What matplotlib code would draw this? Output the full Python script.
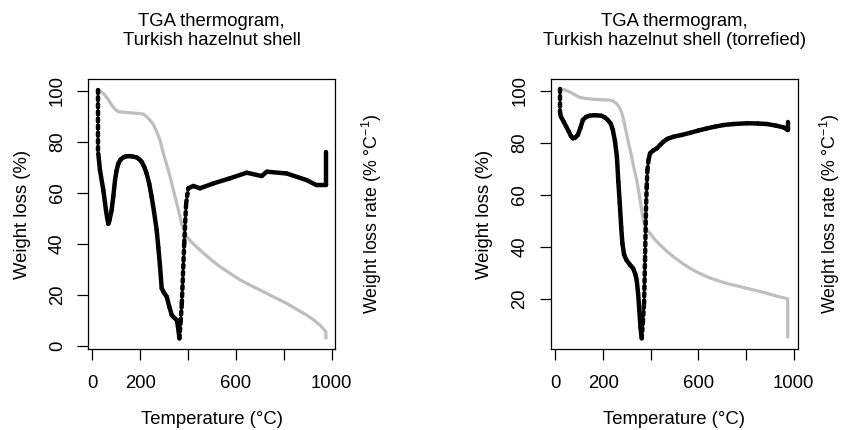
import numpy as np
import matplotlib.pyplot as plt
from matplotlib.collections import LineCollection

plt.rcParams['font.family'] = ['Liberation Sans', 'DejaVu Sans']
plt.rcParams['mathtext.fontset'] = 'custom'
plt.rcParams['mathtext.rm'] = 'Liberation Sans'
plt.rcParams['mathtext.it'] = 'Liberation Sans:italic'

# raw hazelnut shell: weight (%) and scaled weight loss rate, both vs temperature (C)
raw_temp = [25, 35, 53, 67, 81, 95, 109, 130, 158, 213, 225, 241, 255, 269, 283,
            297, 311, 325, 339, 353, 363, 373, 383, 394, 420, 450, 490, 533, 575,
            617, 665, 714, 760, 812, 850, 896, 925, 951, 976, 976]
raw_weight = [100.5, 99.8, 98.3, 96.5, 94.4, 92.8, 91.8, 91.6, 91.4, 90.9, 90.0,
              88.5, 86.8, 84, 80.5, 75.5, 71, 66.3, 61, 55.9, 52, 48, 45.5, 42.8,
              40.2, 37.6, 34.3, 31.1, 28.5, 25.9, 23.6, 21.3, 19.1, 16.7, 14.6,
              12.1, 10.2, 8.2, 5.6, 2.6]
raw_rate_temp = [25, 25, 32, 46, 57, 62, 67, 72, 81, 88, 95, 101, 109, 118, 130,
                 140, 158, 170, 185, 196, 206, 217, 227, 238, 248, 258, 269, 276,
                 283, 290, 300, 311, 322, 332, 343, 353, 358, 364, 369, 374, 384,
                 392, 401, 422, 450, 506, 575, 645, 708, 729, 812, 896, 937, 972,
                 976, 976]
raw_rate = [100.5, 75.4, 68.9, 61.1, 53.3, 50.2, 47.9, 49.3, 53.3, 58.8, 65, 68.6,
            71.6, 73.0, 73.9, 74.3, 74.4, 74.2, 73.9, 73.2, 72.2, 70.2, 67.6, 63.5,
            58.5, 52.5, 45.4, 38.5, 31.1, 22.6, 20.8, 19.3, 15.3, 12.1, 11.0, 10.2,
            7.5, 3, 9.5, 16.7, 40.2, 55.9, 61.8, 62.7, 61.8, 63.7, 65.7, 67.9,
            66.6, 68.3, 67.6, 65, 63, 63, 63, 76.1]

# torrefied hazelnut shell
torr_temp = [20, 40, 59, 80, 101, 120, 157, 228, 240, 256, 266, 277, 287, 298,
             309, 320, 330, 341, 352, 362, 369, 376, 385, 397, 415, 439, 465, 495,
             530, 565, 600, 635, 680, 719, 760, 804, 850, 888, 930, 975, 975]
torr_weight = [100.7, 100.3, 99.6, 98.5, 97.5, 97.1, 96.7, 96.4, 96.1, 95.1, 94,
               91.9, 88.5, 83.6, 79, 74.6, 70, 65.7, 60, 54.1, 50.5, 47.7, 46.3,
               45.2, 43, 40.7, 38.5, 36.2, 33.8, 31.7, 30, 28.5, 27, 25.9, 25, 24,
               23, 22.1, 21, 20, 4.8]
torr_rate_temp = [20, 20, 23, 35, 45, 55, 65, 73, 83, 94, 105, 115, 128, 143, 165,
                  192, 208, 220, 232, 241, 250, 258, 264, 270, 276, 281, 288, 298,
                  315, 326, 335, 341, 347, 352, 357, 362, 367, 372, 376, 380, 383,
                  386, 391, 397, 410, 425, 440, 453, 470, 495, 530, 565, 600, 635,
                  670, 705, 747, 804, 850, 888, 925, 958, 975, 975]
torr_rate = [100.7, 91.3, 90, 88.0, 86.2, 84.5, 82.6, 81.7, 82.0, 83, 85.8, 88.7,
             89.9, 90.4, 90.6, 90.4, 89.7, 88.7, 87.4, 84.9, 80.5, 74.6, 65, 56.7,
             47.5, 41.3, 37.0, 34.9, 32.8, 31.7, 29.5, 27.2, 22, 15.7, 9, 4.8, 11,
             18.2, 35, 54.1, 63, 69.5, 73.5, 75.9, 77.0, 77.8, 79.2, 80.4, 81.5,
             82.3, 83.0, 83.8, 84.7, 85.5, 86.2, 86.8, 87.2, 87.5, 87.4, 87.2, 86.6,
             85.9, 84.9, 87.8]

titles = ["TGA thermogram,\nTurkish hazelnut shell",
          "TGA thermogram,\nTurkish hazelnut shell (torrefied)"]
x_ticks = [0, 200, 400, 600, 800, 1000]
x_tick_labels = ['0', '200', '', '600', '', '1000']
y_ticks_raw = [0, 20, 40, 60, 80, 100]
y_ticks_torr = [20, 40, 60, 80, 100]

W, H = 843, 430
FS = 13.3


def fx(px):
    return px / W


def fy(py):
    return 1 - py / H


def rate_line(ax, t, r):
    # steep, sparsely sampled stretches look dotted in the original
    t = np.asarray(t, float)
    r = np.asarray(r, float)
    pts = np.column_stack([t, r])
    segs = np.stack([pts[:-1], pts[1:]], axis=1)
    imin = int(np.argmin(r))
    styles = []
    for i in range(len(segs)):
        dt = t[i + 1] - t[i]
        slope = (r[i + 1] - r[i]) / dt if dt else np.inf
        dotted = (i == 0) or (i >= imin and dt > 0 and slope > 0.5)
        styles.append((0, (0.7, 0.9)) if dotted else 'solid')
    lc = LineCollection(segs, colors='black', linewidths=3.2,
                        linestyles=styles, capstyle='round', zorder=3)
    ax.add_collection(lc)


fig = plt.figure(figsize=(W / 100, H / 100), dpi=100)

panels = [
    dict(left=88.3, right=335.0, xlim=(-16.7, 1014), ylim=(-1.06, 104.5),
         temp=raw_temp, weight=raw_weight, rt=raw_rate_temp, rate=raw_rate,
         yt=y_ticks_raw, title=titles[0]),
    dict(left=550.7, right=797.7, xlim=(-20, 1017), ylim=(0.8, 104.4),
         temp=torr_temp, weight=torr_weight, rt=torr_rate_temp, rate=torr_rate,
         yt=y_ticks_torr, title=titles[1]),
]
top, bottom = 79.3, 348.7

for p in panels:
    ax = fig.add_axes([fx(p['left']), fy(bottom), (p['right'] - p['left']) / W,
                       (bottom - top) / H])
    ax.plot(p['temp'], p['weight'], color='#bebebe', lw=2.3, zorder=2,
            solid_capstyle='butt', solid_joinstyle='round')
    rate_line(ax, p['rt'], p['rate'])
    ax.set_xlim(*p['xlim'])
    ax.set_ylim(*p['ylim'])

    ax.set_xticks(x_ticks)
    ax.set_xticklabels(x_tick_labels, fontsize=FS)
    ax.set_yticks(p['yt'])
    ax.set_yticklabels([str(v) for v in p['yt']], fontsize=FS, rotation=90,
                       va='center')
    ax.tick_params(length=8, width=0.9, direction='out')
    ax.tick_params(axis='x', pad=11)
    ax.tick_params(axis='y', pad=8)
    for s in ax.spines.values():
        s.set_linewidth(0.9)

    cx = (p['left'] + p['right']) / 2
    cy = (top + bottom) / 2
    fig.text(fx(cx), fy(31), p['title'], ha='center', va='center',
             fontsize=FS, linespacing=1.2)
    fig.text(fx(cx), fy(424), 'Temperature (°C)', ha='center',
             va='baseline', fontsize=FS)
    fig.text(fx(p['left'] - 66), fy(cy), 'Weight loss (%)', ha='center',
             va='center', rotation=90, fontsize=FS)
    rx = min(p['right'] + 37, W - 13)
    fig.text(fx(rx), fy(cy), 'Weight loss rate (% °C$^{-1}$)',
             ha='center', va='center', rotation=90, fontsize=FS - 0.5)

fig.savefig('out.png', dpi=100)
